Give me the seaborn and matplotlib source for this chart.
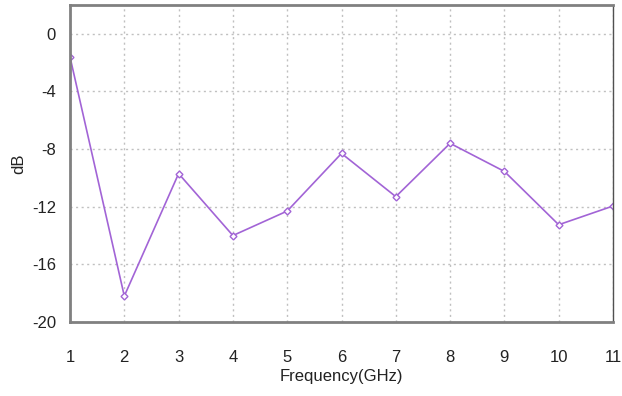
import matplotlib
matplotlib.use("Agg")
import matplotlib.pyplot as plt
import seaborn as sns
import pandas as pd

# Measured return loss across the band
freq_ghz = [1, 2, 3, 4, 5, 6, 7, 8, 9, 10, 11]
db_values = [-1.6, -18.2, -9.7, -14.0, -12.3, -8.3, -11.3, -7.6, -9.55, -13.25, -11.95]
y_ticks = [0, -4, -8, -12, -16, -20]

df = pd.DataFrame({"Frequency(GHz)": freq_ghz, "dB": db_values})

sns.set_style("white")
plt.rcParams["font.family"] = ["Liberation Sans", "DejaVu Sans"]
plt.rcParams["axes.unicode_minus"] = False

fig = plt.figure(figsize=(6.22, 3.96), dpi=100)
ax = fig.add_axes([70 / 622, 1 - 322 / 396, (613 - 70) / 622, (322 - 5) / 396])

sns.lineplot(data=df, x="Frequency(GHz)", y="dB", ax=ax, color="#a264d6",
             linewidth=1.2, marker="D", markersize=3.5,
             markerfacecolor="white", markeredgecolor="#a264d6",
             markeredgewidth=1.0)

ax.set_xlim(1, 11)
ax.set_ylim(-20, 2)
ax.set_xticks(freq_ghz)
ax.set_yticks(y_ticks)
ax.tick_params(axis="y", length=0, labelsize=12, pad=10, colors="#222222")
ax.tick_params(axis="x", length=0, labelsize=12, pad=20, colors="#222222")
ax.grid(True, linestyle=(0, (1.5, 2.5)), color="#c0c0c0", linewidth=1.0)
for side in ["left", "bottom", "top"]:
    ax.spines[side].set_color("#808080")
    ax.spines[side].set_linewidth(2.0)
ax.spines["right"].set_color("#505050")
ax.spines["right"].set_linewidth(1.0)

ax.set_xlabel("Frequency(GHz)", fontsize=12, labelpad=3, color="#222222")
ax.set_ylabel("dB", fontsize=12, labelpad=4, color="#222222")

fig.savefig("out.png", dpi=100)
